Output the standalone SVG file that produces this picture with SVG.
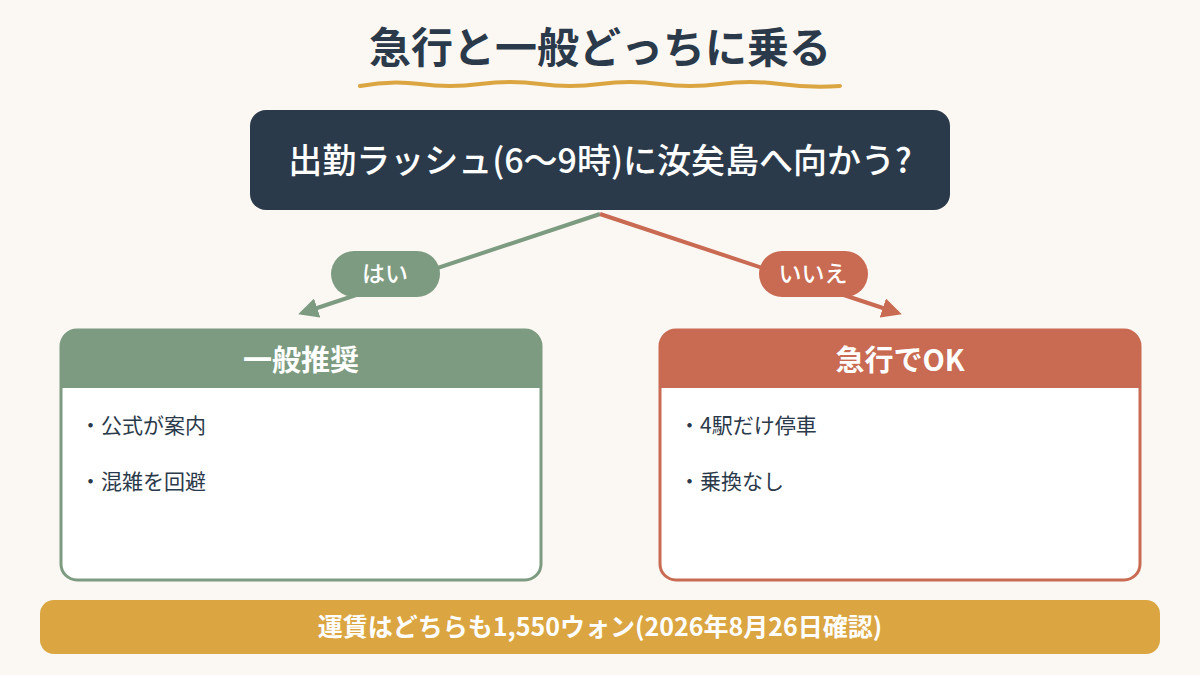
<svg xmlns="http://www.w3.org/2000/svg" width="1200" height="675" viewBox="0 0 1200 675">
<defs>
<style>
text{font-family:"Noto Sans CJK JP","Noto Sans",sans-serif}
.w{fill:#fff}
.item{font-size:21px;fill:#2b3a4a}
</style>
<marker id="ag" viewBox="0 0 10 10" refX="8" refY="5" markerWidth="5" markerHeight="5" orient="auto"><path d="M0,0L10,5L0,10z" fill="#7d9b81"/></marker>
<marker id="ar" viewBox="0 0 10 10" refX="8" refY="5" markerWidth="5" markerHeight="5" orient="auto"><path d="M0,0L10,5L0,10z" fill="#c96a52"/></marker>
</defs>
<rect width="1200" height="675" fill="#fbf7f2"/>
<g id="title">
<text x="600" y="63" text-anchor="middle" font-size="42" font-weight="600" fill="#2b3a4a">急行と一般どっちに乗る</text>
<path d="M360,86 Q390,80 420,84 T480,84 T540,84 T600,84 T660,84 T720,84 T780,84 T840,86" fill="none" stroke="#dba642" stroke-width="4" stroke-linecap="round"/>
</g>
<g id="connectors">
<line x1="600" y1="214" x2="302" y2="313" stroke="#7d9b81" stroke-width="4" marker-end="url(#ag)"/>
<line x1="600" y1="214" x2="898" y2="313" stroke="#c96a52" stroke-width="4" marker-end="url(#ar)"/>
<g><rect x="331" y="251" width="109" height="46" rx="23" fill="#7d9b81"/><text x="385" y="282" text-anchor="middle" font-size="23" font-weight="500" class="w">はい</text></g>
<g><rect x="759" y="251" width="109" height="46" rx="23" fill="#c96a52"/><text x="813" y="282" text-anchor="middle" font-size="23" font-weight="500" class="w">いいえ</text></g>
</g>
<g id="question">
<rect x="250" y="110" width="700" height="100" rx="16" fill="#2b3a4a"/>
<text x="600" y="173" text-anchor="middle" font-size="34" font-weight="500" class="w">出勤ラッシュ(6〜9時)に汝矣島へ向かう?</text>
</g>
<g id="general">
<rect x="61" y="330" width="480" height="250" rx="16" fill="#fff" stroke="#7d9b81" stroke-width="3"/>
<path d="M61,388 V346 Q61,330 77,330 H525 Q541,330 541,346 V388 Z" fill="#7d9b81"/>
<text x="301" y="371" text-anchor="middle" font-size="29" font-weight="700" class="w">一般推奨</text>
<text x="80" y="433" class="item">・公式が案内</text>
<text x="80" y="489" class="item">・混雑を回避</text>
</g>
<g id="express">
<rect x="660" y="330" width="480" height="250" rx="16" fill="#fff" stroke="#c96a52" stroke-width="3"/>
<path d="M660,388 V346 Q660,330 676,330 H1124 Q1140,330 1140,346 V388 Z" fill="#c96a52"/>
<text x="900" y="371" text-anchor="middle" font-size="29" font-weight="700" class="w">急行でOK</text>
<text x="679" y="433" class="item">・4駅だけ停車</text>
<text x="679" y="489" class="item">・乗換なし</text>
</g>
<g id="footer">
<rect x="40" y="600" width="1120" height="54" rx="14" fill="#dba642"/>
<text x="600" y="636" text-anchor="middle" font-size="25" font-weight="700" class="w">運賃はどちらも1,550ウォン(2026年8月26日確認)</text>
</g>
</svg>
